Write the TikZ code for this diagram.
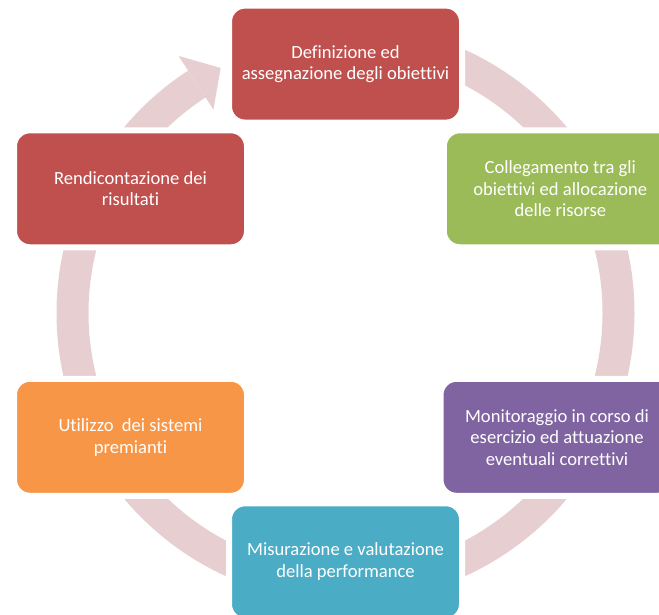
\documentclass[tikz,border=0pt]{standalone}
\usepackage{fontspec}
\setmainfont{Carlito}[RawFeature={-liga;-clig;-dlig}]
\usetikzlibrary{calc}
\definecolor{ringc}{RGB}{231,207,209}
\definecolor{cred}{HTML}{C0504D}
\definecolor{cgreen}{HTML}{9BBB59}
\definecolor{cpurple}{HTML}{8064A2}
\definecolor{ccyan}{HTML}{4BACC6}
\definecolor{corange}{HTML}{F79646}
\begin{document}
\begin{tikzpicture}[x=1pt,y=1pt,
  stagebox/.style={rounded corners=16pt, draw=white, line width=6pt,
    minimum width=233pt, minimum height=117pt, inner sep=0pt,
    text=white, align=center, font=\fontsize{18.6}{21.6}\selectfont},
  ringline/.style={draw=ringc, line width=32pt}]
\useasboundingbox (0,0) rectangle (659,615);
\clip (0,0) rectangle (659,615);
\coordinate (c) at (345.5,302);
% ring
\draw[ringline] (c) ++(90:273) arc[start angle=90, end angle=-237, radius=273];
\fill[ringc] ($(c)+(123:242.5)$) -- ($(c)+(117:275)$) -- ($(c)+(123:306.5)$) -- cycle;
% boxes
\node[stagebox, fill=cred] (def) at (345.5,550.9) {Definizione ed\\assegnazione degli obiettivi};
\node[stagebox, fill=cgreen] (col) at (560.3,426.2) {Collegamento tra gli\\obiettivi ed allocazione\\delle risorse};
\node[stagebox, fill=cpurple] (mon) at (557,177.7) {Monitoraggio in corso di\\esercizio ed attuazione\\eventuali correttivi};
\node[stagebox, fill=ccyan] (mis) at (345.5,53.2) {Misurazione e valutazione\\della performance};
\node[stagebox, fill=corange] (uti) at (130.5,177.7) {Utilizzo~ dei sistemi\\premianti};
\node[stagebox, fill=cred] (ren) at (130.5,426.2) {Rendicontazione dei\\risultati};
\end{tikzpicture}
\end{document}
